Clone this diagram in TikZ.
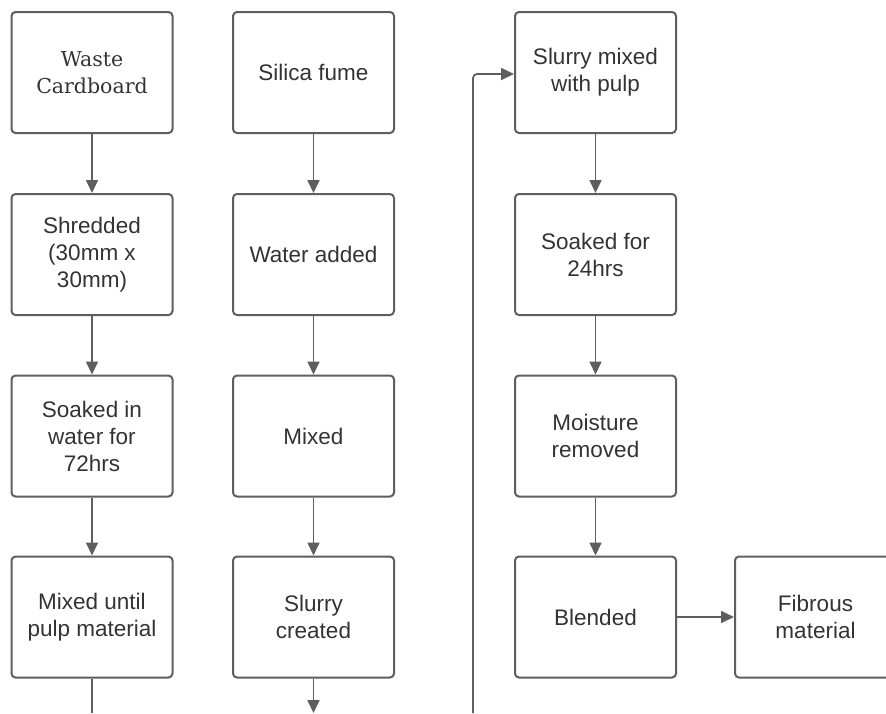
\documentclass[tikz,border=0pt]{standalone}
\usepackage{fontspec}
\setmainfont{Liberation Sans}
\newfontfamily\serifbox{DejaVu Serif}
\usetikzlibrary{arrows.meta}
\definecolor{edge}{HTML}{5E5E5E}
\definecolor{txt}{HTML}{333333}
\tikzset{
  x=1pt,y=-1pt,
  box/.style={draw=edge,line width=2pt,rounded corners=4pt,minimum width=161pt,minimum height=121pt,
    align=center,text=txt,font=\fontsize{22.5}{27}\selectfont,inner sep=0pt},
  arr/.style={draw=edge,line width=1.7pt,-{Triangle[length=13pt,width=12pt]}},
  ln/.style={draw=edge,line width=1.7pt},
}
\begin{document}
\begin{tikzpicture}
\useasboundingbox (0,0) rectangle (886,713);
\fill[white] (0,0) rectangle (886,713);
% column 1
\node[box,font=\serifbox\fontsize{20.5}{27}\selectfont] (a1) at (92,72.5) {Waste\\Cardboard};
\node[box] (a2) at (92,254.5) {Shredded\\(30mm x\\30mm)};
\node[box] (a3) at (92,436) {Soaked in\\water for\\72hrs};
\node[box] (a4) at (92,617) {Mixed until\\pulp material};
% column 2
\node[box] (b1) at (313.5,72.5) {Silica fume};
\node[box] (b2) at (313.5,254.5) {Water added};
\node[box] (b3) at (313.5,436) {Mixed};
\node[box] (b4) at (313.5,617) {Slurry\\created};
% column 3
\node[box] (c1) at (595.5,72.5) {Slurry mixed\\with pulp};
\node[box] (c2) at (595.5,254.5) {Soaked for\\24hrs};
\node[box] (c3) at (595.5,436) {Moisture\\removed};
\node[box] (c4) at (595.5,617) {Blended};
\node[box] (d4) at (815.5,617) {Fibrous\\material};
% free ends
\coordinate (e1) at (92,713);
\coordinate (e2) at (313.5,713);
\coordinate (e3) at (473,713);
\coordinate (k3) at (473,74);
% connectors
\draw[arr] (a1) -- (a2);
\draw[arr] (a2) -- (a3);
\draw[arr] (a3) -- (a4);
\draw[ln] (a4) -- (e1);
\draw[arr] (b1) -- (b2);
\draw[arr] (b2) -- (b3);
\draw[arr] (b3) -- (b4);
\draw[arr] (b4) -- (e2);
\draw[arr] (c1) -- (c2);
\draw[arr] (c2) -- (c3);
\draw[arr] (c3) -- (c4);
\draw[arr] (c4) -- (d4);
\draw[arr,rounded corners=4pt] (e3) -- (k3) -- (k3 -| c1.west);
\end{tikzpicture}
\end{document}
